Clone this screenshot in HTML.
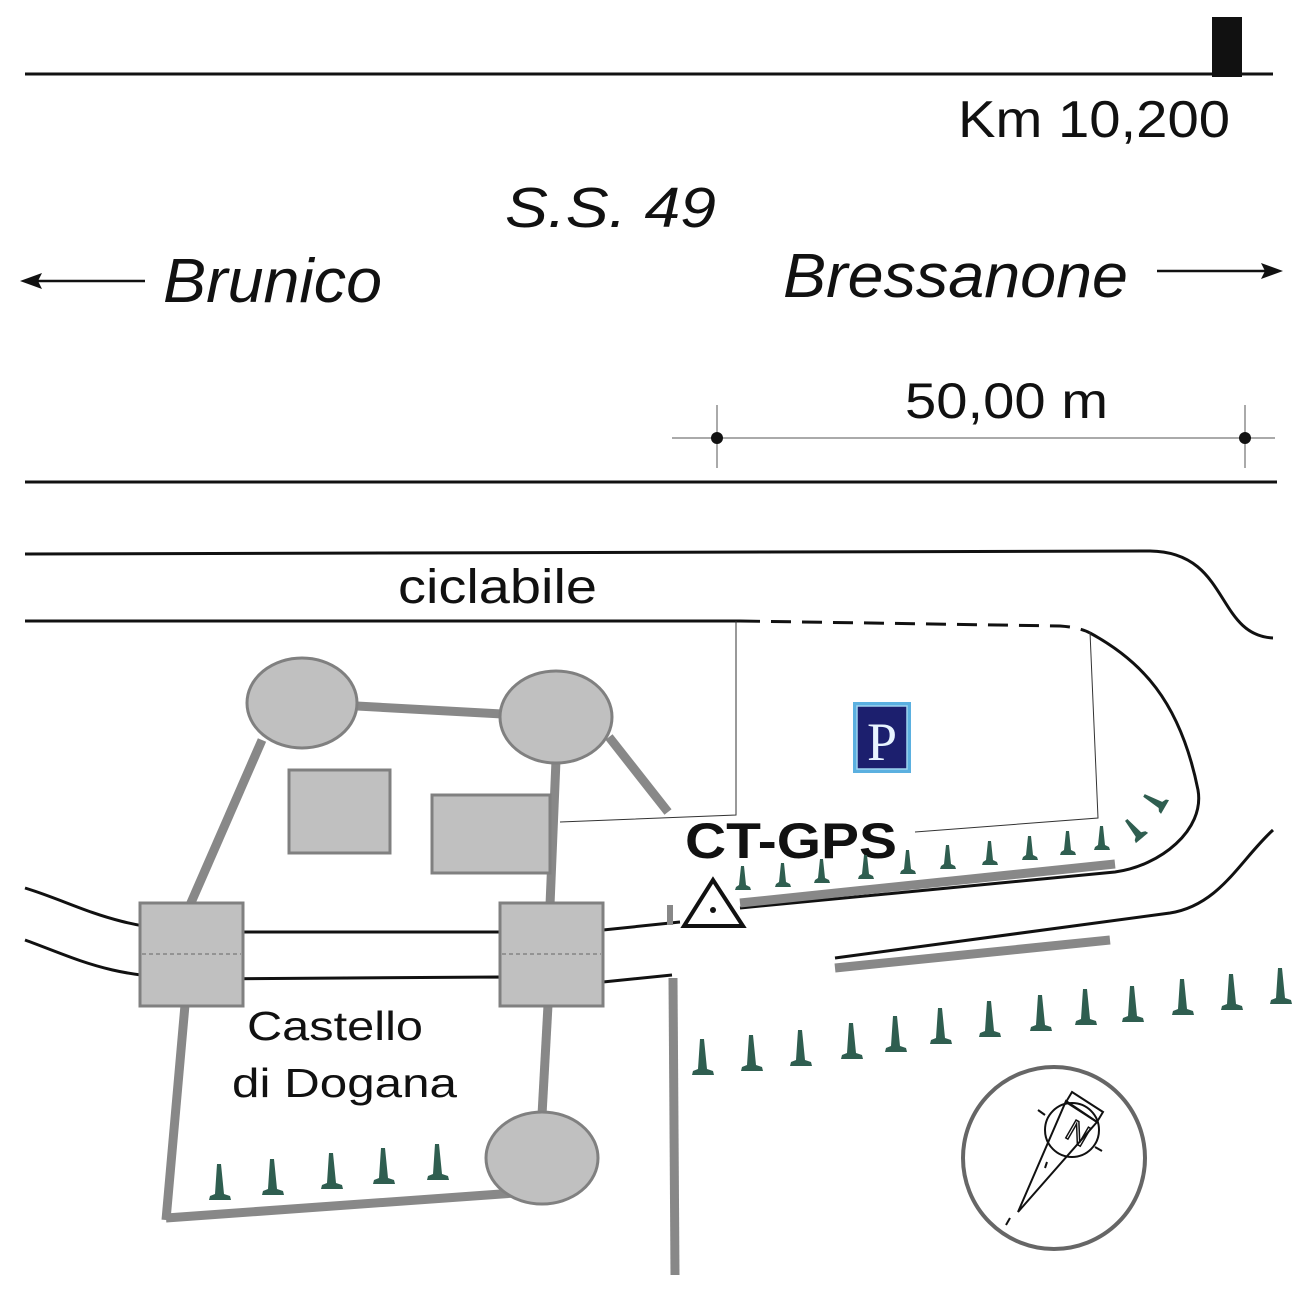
<!DOCTYPE html>
<html><head><meta charset="utf-8"><style>html,body{margin:0;padding:0;background:#fff}svg{display:block}</style></head>
<body>
<svg width="1299" height="1299" viewBox="0 0 1299 1299" xmlns="http://www.w3.org/2000/svg">
<defs>
<path id="cone" d="M-11,0 L11,0 L10,-4 L4,-6 L1,-36 L-3,-36 L-5,-6 L-10,-4 Z" fill="#2f5e50"/>
<path id="cs" d="M-8,0 L8,0 L7,-3 L3,-5 L1,-24 L-2,-24 L-4,-5 L-7,-3 Z" fill="#2f5e50"/>
</defs>
<rect width="1299" height="1299" fill="#fff"/>
<g font-family="Liberation Sans, sans-serif" fill="#111">
<line x1="25" y1="74" x2="1273" y2="74" stroke="#111" stroke-width="3"/>
<rect x="1212" y="17" width="30" height="60" fill="#111"/>
<text x="958" y="137" font-size="52" textLength="272" lengthAdjust="spacingAndGlyphs">Km 10,200</text>
<text x="505" y="227" font-size="57" font-style="italic" textLength="211" lengthAdjust="spacingAndGlyphs">S.S. 49</text>
<text x="163" y="302" font-size="62" font-style="italic" textLength="219" lengthAdjust="spacingAndGlyphs">Brunico</text>
<text x="783" y="297" font-size="62" font-style="italic" textLength="345" lengthAdjust="spacingAndGlyphs">Bressanone</text>
<line x1="30" y1="281" x2="145" y2="281" stroke="#111" stroke-width="2.5"/>
<path d="M20,281 L42,273 L38,281 L42,289 Z"/>
<line x1="1157" y1="271" x2="1272" y2="271" stroke="#111" stroke-width="2.5"/>
<path d="M1283,271 L1261,263 L1265,271 L1261,279 Z"/>
<text x="905" y="418" font-size="50" textLength="203" lengthAdjust="spacingAndGlyphs">50,00 m</text>
<line x1="672" y1="438" x2="1275" y2="438" stroke="#555" stroke-width="1"/>
<line x1="717" y1="405" x2="717" y2="468" stroke="#555" stroke-width="1"/>
<line x1="1245" y1="405" x2="1245" y2="468" stroke="#555" stroke-width="1"/>
<circle cx="717" cy="438" r="6"/><circle cx="1245" cy="438" r="6"/>
<line x1="25" y1="482" x2="1277" y2="482" stroke="#111" stroke-width="3"/>

<text x="398" y="603" font-size="48" textLength="199" lengthAdjust="spacingAndGlyphs">ciclabile</text>

<g fill="none" stroke="#111" stroke-width="3">
<path d="M25,554 L1150,551 C1230,552 1215,635 1273,638"/>
<path d="M25,621 L740,621"/>
<path d="M740,621 L1060,626 C1075,627 1085,630 1090,633" stroke-dasharray="20,11"/>
<path d="M1090,633 C1140,660 1180,700 1198,790 C1205,830 1160,866 1115,872 L740,908"/>
<path d="M25,888 C80,905 110,928 200,932 L500,932 L603,930 L680,922"/>
<path d="M25,940 C80,960 110,978 200,979 L500,977 L603,982 L672,975"/>
<path d="M1273,830 C1240,860 1220,905 1170,913 L835,958"/>
</g>
<g fill="none" stroke="#333" stroke-width="1">
<path d="M736,621 L736,815 L560,822"/>
<path d="M1090,632 L1098,818 L915,832"/>
</g>
<g stroke="#888" stroke-width="9" fill="none">
<line x1="740" y1="903" x2="1115" y2="864"/>
<line x1="835" y1="968" x2="1110" y2="940"/>
<line x1="673" y1="978" x2="675" y2="1275"/>
<line x1="670" y1="905" x2="670" y2="925" stroke-width="6"/>
<line x1="302" y1="703" x2="556" y2="717"/>
<line x1="262" y1="740" x2="190" y2="905"/>
<line x1="556" y1="760" x2="550" y2="905"/>
<line x1="609" y1="737" x2="668" y2="812"/>
<line x1="548" y1="1005" x2="542" y2="1115"/>
<line x1="185" y1="1005" x2="166" y2="1220"/>
<line x1="166" y1="1218" x2="515" y2="1193"/>
</g>
<g fill="#c0c0c0" stroke="#808080" stroke-width="3">
<ellipse cx="302" cy="703" rx="55" ry="45"/>
<ellipse cx="556" cy="717" rx="56" ry="46"/>
<ellipse cx="542" cy="1158" rx="56" ry="46"/>
<rect x="140" y="903" width="103" height="103"/>
<rect x="500" y="903" width="103" height="103"/>
<rect x="289" y="770" width="101" height="83"/>
<rect x="432" y="795" width="118" height="78"/>
</g>
<line x1="142" y1="954" x2="241" y2="954" stroke="#666" stroke-width="1" stroke-dasharray="4,3"/>
<line x1="502" y1="954" x2="601" y2="954" stroke="#666" stroke-width="1" stroke-dasharray="4,3"/>
<text x="247" y="1040" font-size="41" textLength="176" lengthAdjust="spacingAndGlyphs">Castello</text>
<text x="232" y="1097" font-size="41" textLength="225" lengthAdjust="spacingAndGlyphs">di Dogana</text>
<text x="685" y="858" font-size="50" font-weight="bold" textLength="212" lengthAdjust="spacingAndGlyphs">CT-GPS</text>
<path d="M713,880 L684,926 L743,926 Z" fill="#fff" stroke="#111" stroke-width="4"/>
<circle cx="713" cy="910" r="3"/>
<rect x="853" y="702" width="58" height="71" fill="#5bb0e0"/>
<rect x="857" y="706" width="50" height="63" fill="#1c1f6e" stroke="#9fd4f0" stroke-width="1.5"/>
<text x="882" y="760" font-size="54" font-family="Liberation Serif, serif" fill="#e8f4ff" text-anchor="middle">P</text>

<g>
<use href="#cs" x="743" y="890"/><use href="#cs" x="783" y="887"/><use href="#cs" x="822" y="883"/>
<use href="#cs" x="866" y="879"/><use href="#cs" x="908" y="874"/><use href="#cs" x="948" y="869"/>
<use href="#cs" x="990" y="865"/><use href="#cs" x="1030" y="860"/><use href="#cs" x="1068" y="855"/>
<use href="#cs" x="1102" y="850"/>
<use href="#cs" transform="translate(1142,838) rotate(-40)"/>
<use href="#cs" transform="translate(1165,807) rotate(-60)"/>
<use href="#cone" x="703" y="1075"/><use href="#cone" x="752" y="1071"/><use href="#cone" x="801" y="1066"/>
<use href="#cone" x="852" y="1059"/><use href="#cone" x="896" y="1052"/><use href="#cone" x="941" y="1044"/>
<use href="#cone" x="990" y="1037"/><use href="#cone" x="1041" y="1031"/><use href="#cone" x="1086" y="1025"/>
<use href="#cone" x="1133" y="1022"/><use href="#cone" x="1183" y="1015"/><use href="#cone" x="1232" y="1010"/>
<use href="#cone" x="1281" y="1004"/>
<use href="#cone" x="220" y="1200"/><use href="#cone" x="273" y="1195"/><use href="#cone" x="332" y="1189"/>
<use href="#cone" x="384" y="1184"/><use href="#cone" x="438" y="1180"/>
</g>

<circle cx="1054" cy="1158" r="91" fill="none" stroke="#666" stroke-width="4"/>
<g fill="none" stroke="#111" stroke-width="2">
<circle cx="1072" cy="1130" r="27"/>
<path d="M1018,1212 L1066,1101 L1097,1122 Z"/>
<path d="M1072,1092 L1103,1112 L1097,1122 L1066,1102 Z"/>
<line x1="1038" y1="1110" x2="1045" y2="1115"/>
<line x1="1095" y1="1147" x2="1102" y2="1151"/>
<line x1="1006" y1="1225" x2="1010" y2="1218"/>
<line x1="1047" y1="1162" x2="1045" y2="1168"/>
</g>
<text x="0" y="0" font-size="30" transform="translate(1073,1142) rotate(30)" text-anchor="middle" fill="none" stroke="#111" stroke-width="1.5">N</text>
</g>
</svg>
</body></html>
